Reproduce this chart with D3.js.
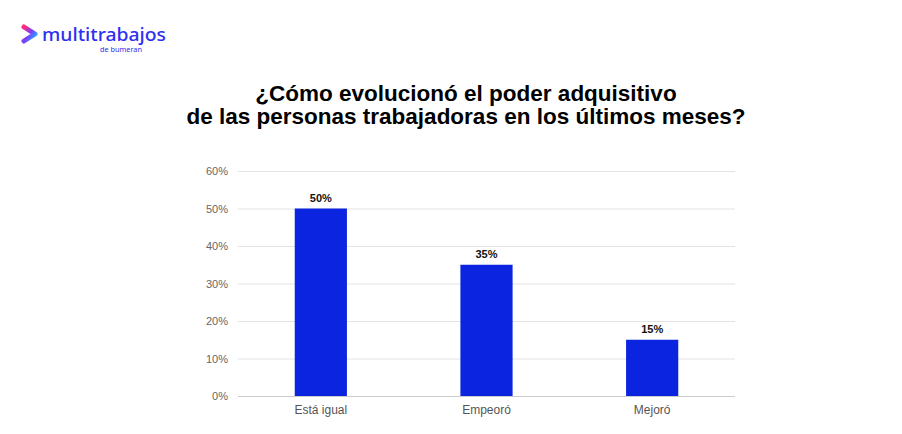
<!DOCTYPE html>
<html>
<head>
  <meta charset="utf-8">
  <title>Poder adquisitivo</title>
  <script src="https://d3js.org/d3.v7.min.js"></script>
  <style>
    body { margin: 0; background: #fff; }
  </style>
</head>
<body>
  <div id="chart"></div>

  <script>
    var categories = ["Está igual", "Empeoró", "Mejoró"];
    var values = [50, 35, 15];
    var yTicks = [0, 10, 20, 30, 40, 50, 60];
    var titleLines = ["¿Cómo evolucionó el poder adquisitivo",
                      "de las personas trabajadoras en los últimos meses?"];

    var W = 902, H = 434;
    var margin = {top: 171, right: 167, bottom: 38, left: 238},
        width = W - margin.left - margin.right,
        height = H - margin.top - margin.bottom;

    var root = d3.select("#chart")
      .append("svg")
      .attr("width", W)
      .attr("height", H);

    // logo
    var grad = root.append("defs").append("linearGradient")
      .attr("id", "lg").attr("x1", "0").attr("y1", "0").attr("x2", "1").attr("y2", "1");
    grad.append("stop").attr("offset", "0").attr("stop-color", "#ff2d7a");
    grad.append("stop").attr("offset", "0.5").attr("stop-color", "#7a3cff");
    grad.append("stop").attr("offset", "1").attr("stop-color", "#14c8ff");
    var logo = root.append("g");
    logo.append("path")
      .attr("d", "M24,27 L35,34 L24,41")
      .attr("fill", "none")
      .attr("stroke", "url(#lg)")
      .attr("stroke-width", 5)
      .attr("stroke-linecap", "round")
      .attr("stroke-linejoin", "round");
    logo.append("text")
      .attr("x", 42).attr("y", 41)
      .attr("font-family", "'Noto Sans', sans-serif")
      .attr("font-size", 18)
      .attr("font-weight", 500)
      .attr("fill", "#2f2ff0")
      .attr("textLength", 124)
      .attr("lengthAdjust", "spacingAndGlyphs")
      .text("multitrabajos");
    logo.append("text")
      .attr("x", 100).attr("y", 52)
      .attr("font-family", "'Noto Sans', sans-serif")
      .attr("font-size", 6.5)
      .attr("fill", "#2f2ff0")
      .attr("textLength", 42)
      .attr("lengthAdjust", "spacingAndGlyphs")
      .text("de bumeran");

    // title
    root.append("g").selectAll("text")
      .data(titleLines)
      .enter().append("text")
      .attr("x", 466)
      .attr("y", function(d, i) { return 101 + i * 23; })
      .attr("text-anchor", "middle")
      .attr("font-family", "'Liberation Sans', Arial, sans-serif")
      .attr("font-size", 22.5)
      .attr("font-weight", "bold")
      .attr("fill", "#000")
      .text(function(d) { return d; });

    var svg = root.append("g")
      .attr("transform", "translate(" + margin.left + "," + margin.top + ")");

    var x = d3.scaleBand()
      .domain(categories)
      .range([0, width])
      .paddingInner(0.685)
      .paddingOuter(0.3425);

    var y = d3.scaleLinear()
      .domain([0, 60])
      .range([height, 0]);

    // gridlines
    svg.append("g").selectAll("line")
      .data(yTicks)
      .enter().append("line")
      .attr("x1", 0).attr("x2", width)
      .attr("y1", function(d) { return y(d) + 0.5; })
      .attr("y2", function(d) { return y(d) + 0.5; })
      .attr("stroke", function(d) { return d === 0 ? "#cccccc" : "#e3e3e3"; })
      .attr("stroke-width", 1);

    var yAxis = svg.append("g")
      .call(d3.axisLeft(y).tickValues(yTicks).tickSize(0).tickPadding(10)
        .tickFormat(function(d) { return d + "%"; }));
    yAxis.select(".domain").remove();
    yAxis.selectAll("text")
      .attr("font-family", "'Liberation Sans', Arial, sans-serif")
      .attr("font-size", 11)
      .attr("fill", "#666");

    svg.selectAll("rect.bar")
      .data(values)
      .enter().append("rect")
      .attr("class", "bar")
      .attr("x", function(d, i) { return x(categories[i]); })
      .attr("y", function(d) { return y(d); })
      .attr("width", x.bandwidth())
      .attr("height", function(d) { return height - y(d); })
      .attr("fill", "#0a24e0");

    svg.selectAll("text.val")
      .data(values)
      .enter().append("text")
      .attr("class", "val")
      .attr("x", function(d, i) { return x(categories[i]) + x.bandwidth() / 2; })
      .attr("y", function(d) { return y(d) - 7; })
      .attr("text-anchor", "middle")
      .attr("font-family", "'Liberation Sans', Arial, sans-serif")
      .attr("font-size", 11)
      .attr("font-weight", "bold")
      .attr("fill", "#111")
      .text(function(d) { return d + "%"; });

    var xAxis = svg.append("g")
      .attr("transform", "translate(0," + height + ")")
      .call(d3.axisBottom(x).tickSize(0).tickPadding(9));
    xAxis.select(".domain").remove();
    xAxis.selectAll("text")
      .attr("font-family", "'Liberation Sans', Arial, sans-serif")
      .attr("font-size", 12)
      .attr("fill", "#555");
  </script>
</body>
</html>
